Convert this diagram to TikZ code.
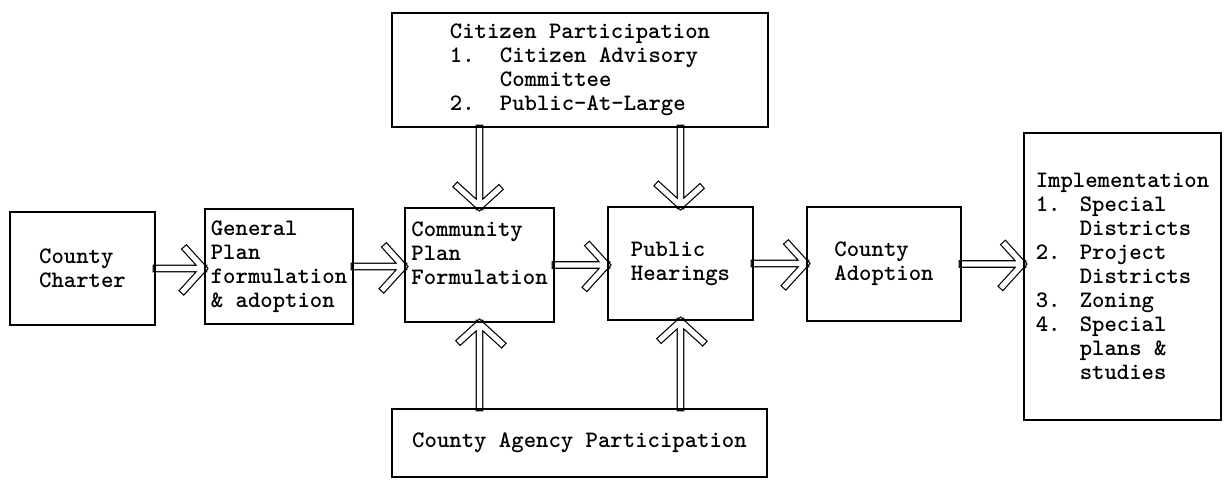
\documentclass[tikz,border=0pt]{standalone}
\usetikzlibrary{calc, backgrounds}
\begin{document}
\begin{tikzpicture}[x=0.5pt, y=-0.5pt,
    every node/.style={font=\ttfamily\bfseries\fontsize{11.8}{12}\selectfont},
    box/.style={draw, line width=1.4pt, inner sep=0pt, align=left},
    flow/.style={double, double distance=2.6pt, line width=0.6pt, line cap=rect, shorten <=1.9pt,
        to path={-- (\tikztotarget)
            ($(\tikztotarget)!10pt!(\tikztostart)!11pt!90:(\tikztotarget)$) -- (\tikztotarget)
            -- ($(\tikztotarget)!10pt!(\tikztostart)!11pt!-90:(\tikztotarget)$)}}
]
    \useasboundingbox (0,0) rectangle (1225,479);

    \node[box, minimum width=72.5pt, minimum height=56.5pt] (charter) at (82.5,268.5) {County\\Charter};
    \node[box, minimum width=74pt,   minimum height=57.5pt] (gen)     at (279,266.5)  {General\\Plan\\formulation\\\& adoption};
    \node[box, minimum width=74.5pt, minimum height=57pt]   (com)     at (479.5,265)  {Community\\Plan\\Formulation\\\mbox{}};
    \node[box, minimum width=72.5pt, minimum height=56.5pt] (hear)    at (680.5,263.5) {Public\\Hearings};
    \node[box, minimum width=77pt,   minimum height=57pt]   (adopt)   at (884,264)    {County\\Adoption};
    \node[box, minimum width=98.5pt, minimum height=143.5pt] (impl)   at (1122.5,276.5)
        {Implementation\\
         \makebox[22pt][l]{1.}Special\\
         \hspace*{22pt}Districts\\
         \makebox[22pt][l]{2.}Project\\
         \hspace*{22pt}Districts\\
         \makebox[22pt][l]{3.}Zoning\\
         \makebox[22pt][l]{4.}Special\\
         \hspace*{22pt}plans \&\\
         \hspace*{22pt}studies};
    \node[box, minimum width=188pt, minimum height=57pt]   (cit)     at (580,70)
        {Citizen Participation\\
         \makebox[25pt][l]{1.}Citizen Advisory\\
         \hspace*{25pt}Committee\\
         \makebox[25pt][l]{2.}Public-At-Large};
    \node[box, minimum width=187.5pt, minimum height=34pt] (agen)    at (579.5,443) {County Agency Participation};

    \begin{scope}[on background layer]
    % main line
    \draw[flow] (charter.east) to (charter.east -| gen.west);
    \draw[flow] (gen.east)     to (gen.east -| com.west);
    \draw[flow] (com.east)     to (com.east -| hear.west);
    \draw[flow] (hear.east)    to (hear.east -| adopt.west);
    \draw[flow] (adopt.east)   to (adopt.east -| impl.west);

    % participation
    \draw[flow] (com.north |- cit.south)   to (com.north);
    \draw[flow] (hear.north |- cit.south)  to (hear.north);
    \draw[flow] (com.south |- agen.north)  to (com.south);
    \draw[flow] (hear.south |- agen.north) to (hear.south);
    \end{scope}
\end{tikzpicture}
\end{document}
